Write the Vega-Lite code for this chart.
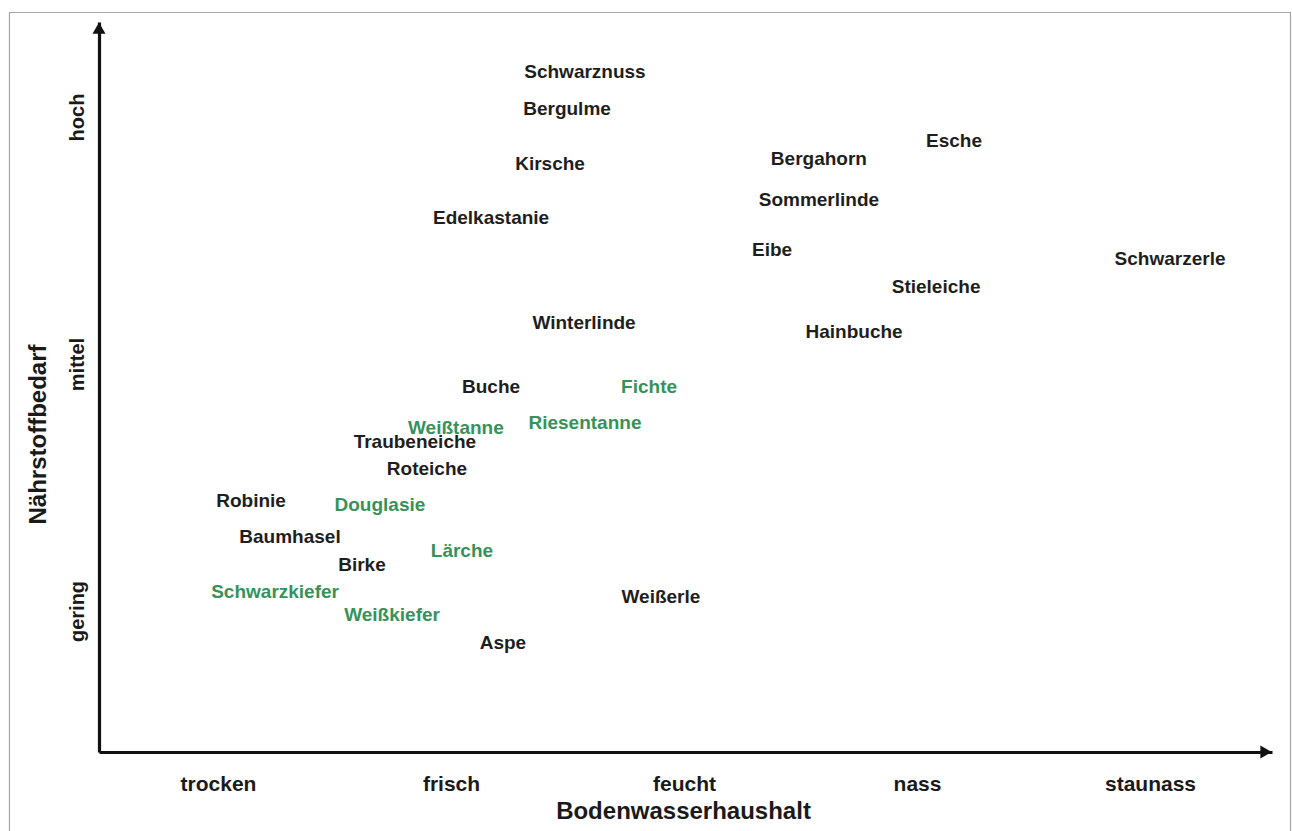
{
  "$schema": "https://vega.github.io/schema/vega-lite/v6.json",
  "width": 1173,
  "height": 730,
  "autosize": {"type": "none"},
  "padding": {"left": 99, "top": 22, "right": 20, "bottom": 79},
  "background": "white",
  "config": {
    "view": {"stroke": null},
    "font": "Liberation Sans",
    "axis": {"labelFontWeight": "bold", "titleFontWeight": "bold"}
  },
  "datasets": {
    "arten": [
      {"art": "Schwarznuss", "wasser": 2.575, "naehrstoff": 3.182, "farbe": "schwarz"},
      {"art": "Bergulme", "wasser": 2.498, "naehrstoff": 3.032, "farbe": "schwarz"},
      {"art": "Kirsche", "wasser": 2.425, "naehrstoff": 2.810, "farbe": "schwarz"},
      {"art": "Edelkastanie", "wasser": 2.172, "naehrstoff": 2.591, "farbe": "schwarz"},
      {"art": "Bergahorn", "wasser": 3.579, "naehrstoff": 2.830, "farbe": "schwarz"},
      {"art": "Esche", "wasser": 4.159, "naehrstoff": 2.903, "farbe": "schwarz"},
      {"art": "Sommerlinde", "wasser": 3.579, "naehrstoff": 2.664, "farbe": "schwarz"},
      {"art": "Eibe", "wasser": 3.378, "naehrstoff": 2.462, "farbe": "schwarz"},
      {"art": "Schwarzerle", "wasser": 5.086, "naehrstoff": 2.425, "farbe": "schwarz"},
      {"art": "Stieleiche", "wasser": 4.082, "naehrstoff": 2.312, "farbe": "schwarz"},
      {"art": "Hainbuche", "wasser": 3.730, "naehrstoff": 2.130, "farbe": "schwarz"},
      {"art": "Winterlinde", "wasser": 2.571, "naehrstoff": 2.166, "farbe": "schwarz"},
      {"art": "Buche", "wasser": 2.172, "naehrstoff": 1.907, "farbe": "schwarz"},
      {"art": "Fichte", "wasser": 2.850, "naehrstoff": 1.907, "farbe": "grün"},
      {"art": "Riesentanne", "wasser": 2.575, "naehrstoff": 1.761, "farbe": "grün"},
      {"art": "Weißtanne", "wasser": 2.021, "naehrstoff": 1.741, "farbe": "grün"},
      {"art": "Traubeneiche", "wasser": 1.845, "naehrstoff": 1.684, "farbe": "schwarz"},
      {"art": "Roteiche", "wasser": 1.897, "naehrstoff": 1.575, "farbe": "schwarz"},
      {"art": "Robinie", "wasser": 1.142, "naehrstoff": 1.445, "farbe": "schwarz"},
      {"art": "Douglasie", "wasser": 1.695, "naehrstoff": 1.429, "farbe": "grün"},
      {"art": "Baumhasel", "wasser": 1.309, "naehrstoff": 1.300, "farbe": "schwarz"},
      {"art": "Lärche", "wasser": 2.047, "naehrstoff": 1.243, "farbe": "grün"},
      {"art": "Birke", "wasser": 1.618, "naehrstoff": 1.186, "farbe": "schwarz"},
      {"art": "Schwarzkiefer", "wasser": 1.245, "naehrstoff": 1.077, "farbe": "grün"},
      {"art": "Weißkiefer", "wasser": 1.747, "naehrstoff": 0.984, "farbe": "grün"},
      {"art": "Weißerle", "wasser": 2.901, "naehrstoff": 1.057, "farbe": "schwarz"},
      {"art": "Aspe", "wasser": 2.223, "naehrstoff": 0.870, "farbe": "schwarz"}
    ],
    "pfeile": [
      {"wasser": 0.4893, "naehrstoff": 3.360, "form": "triangle-up"},
      {"wasser": 5.498, "naehrstoff": 0.4291, "form": "triangle-right"}
    ],
    "rahmen": [
      {"links": 0.105, "rechts": 5.603, "oben": 3.423, "unten": 0.053}
    ]
  },
  "layer": [
    {
      "data": {"name": "arten"},
      "mark": {"type": "text", "fontSize": 19, "fontWeight": "bold", "font": "Liberation Sans", "align": "center", "baseline": "middle"},
      "encoding": {
        "x": {
          "field": "wasser", "type": "quantitative",
          "title": "Bodenwasserhaushalt",
          "scale": {"domain": [0.4893, 5.5236], "nice": false, "zero": false},
          "axis": {
            "title": "Bodenwasserhaushalt",
            "values": [1, 2, 3, 4, 5],
            "labelExpr": "['', 'trocken', 'frisch', 'feucht', 'nass', 'staunass'][datum.value]",
            "grid": false, "ticks": false,
            "domainColor": "#111111", "domainWidth": 3.2, "domainCap": "butt",
            "labelFont": "Liberation Sans", "labelFontSize": 21, "labelFontWeight": 700, "labelColor": "#1a1a1a",
            "labelBaseline": "alphabetic", "labelPadding": 38, "labelFlush": false, "labelOverlap": false,
            "titleFont": "Liberation Sans", "titleFontSize": 24, "titleFontWeight": 700, "titleColor": "#1a1a1a",
            "titleBaseline": "alphabetic", "titleY": 66, "titleX": 584, "titleAnchor": "middle", "titleAlign": "center"
          }
        },
        "y": {
          "field": "naehrstoff", "type": "quantitative",
          "title": "Nährstoffbedarf",
          "scale": {"domain": [0.4291, 3.3846], "nice": false, "zero": false},
          "axis": {
            "title": "Nährstoffbedarf",
            "values": [1, 2, 3],
            "labelExpr": "['', 'gering', 'mittel', 'hoch'][datum.value]",
            "grid": false, "ticks": false,
            "domainColor": "#111111", "domainWidth": 3.2, "domainCap": "butt",
            "labelFont": "Liberation Sans", "labelFontSize": 20, "labelFontWeight": 700, "labelColor": "#1a1a1a",
            "labelAngle": 270, "labelAlign": "center", "labelBaseline": "alphabetic", "labelPadding": 16,
            "labelFlush": false, "labelOverlap": false,
            "titleFont": "Liberation Sans", "titleFontSize": 24, "titleFontWeight": 700, "titleColor": "#1a1a1a",
            "titleAngle": 270, "titleBaseline": "alphabetic", "titleAlign": "center", "titleX": -54, "titleY": 412
          }
        },
        "text": {"field": "art", "type": "nominal"},
        "color": {
          "field": "farbe", "type": "nominal",
          "scale": {"domain": ["schwarz", "grün"], "range": ["#1e1e1e", "#37925a"]},
          "legend": null
        }
      }
    },
    {
      "data": {"name": "rahmen"},
      "mark": {"type": "rect", "fill": null, "stroke": "#a6a6a6", "strokeWidth": 1.2, "clip": false},
      "encoding": {
        "x": {"field": "links", "type": "quantitative", "title": "Bodenwasserhaushalt", "scale": {"domain": [0.4893, 5.5236], "nice": false, "zero": false}},
        "x2": {"field": "rechts"},
        "y": {"field": "oben", "type": "quantitative", "title": "Nährstoffbedarf", "scale": {"domain": [0.4291, 3.3846], "nice": false, "zero": false}},
        "y2": {"field": "unten"}
      }
    },
    {
      "data": {"name": "pfeile"},
      "mark": {"type": "point", "filled": true, "size": 170, "opacity": 1, "clip": false},
      "encoding": {
        "x": {"field": "wasser", "type": "quantitative", "title": "Bodenwasserhaushalt", "scale": {"domain": [0.4893, 5.5236], "nice": false, "zero": false}},
        "y": {"field": "naehrstoff", "type": "quantitative", "title": "Nährstoffbedarf", "scale": {"domain": [0.4291, 3.3846], "nice": false, "zero": false}},
        "shape": {"field": "form", "type": "nominal", "scale": null},
        "color": {"value": "#111111"}
      }
    }
  ]
}
